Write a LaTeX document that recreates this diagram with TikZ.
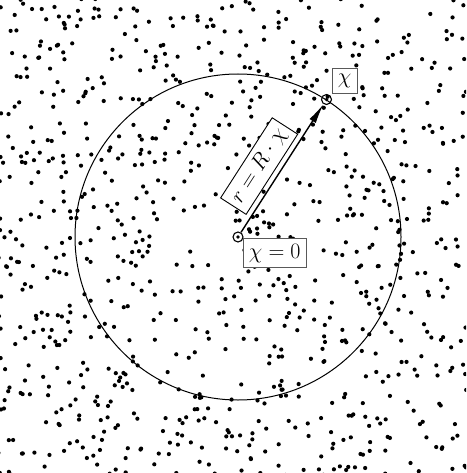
\documentclass[tikz,border=0pt]{standalone}
\usepackage{fix-cm}
\usetikzlibrary{arrows.meta}
\begin{document}
\begin{tikzpicture}[x=1pt,y=-1pt,
  labelbox/.style={draw=black!65,fill=white,inner sep=5.5pt,line width=0.9pt,font=\fontsize{22}{26}\selectfont},
  rbox/.style={draw=black,fill=white,inner sep=5.5pt,line width=0.9pt,font=\fontsize{22}{26}\selectfont},
  ring/.style={circle,draw,line width=1.1pt,minimum size=10pt,inner sep=0pt}]
\useasboundingbox (0,0) rectangle (466,473);
\fill[white] (0,0) rectangle (466,473);
\begin{scope}
\clip (0,0) rectangle (466,473);
\pgfmathsetseed{98765}
\foreach \i in {1,...,900}{
  \pgfmathsetmacro\px{rnd*470-2}
  \pgfmathsetmacro\dummy{rnd}
  \pgfmathsetmacro\py{rnd*477-2}
  \fill (\px,\py) circle (2.1pt);
}
\end{scope}
\coordinate (c) at (238,237);
\draw[line width=1pt] (c) circle (163pt);
\node[ring] (o) at (c) {};
\fill (c) circle (1.8pt);
\node[ring] (p) at (326.5,99.5) {};
\fill (p.center) circle (1.8pt);
\draw[line width=1.4pt,-{Latex[length=20pt,width=7.5pt]}] (o) -- (p)
  node[rbox,pos=0.43,sloped,above=5pt] (rl) {$r = R\cdot\chi$};
\node[labelbox,anchor=north west] (z) at (243,238) {$\chi = 0$};
\node[labelbox,anchor=south west] (x) at (332,94) {$\chi$};
\end{tikzpicture}
\end{document}
